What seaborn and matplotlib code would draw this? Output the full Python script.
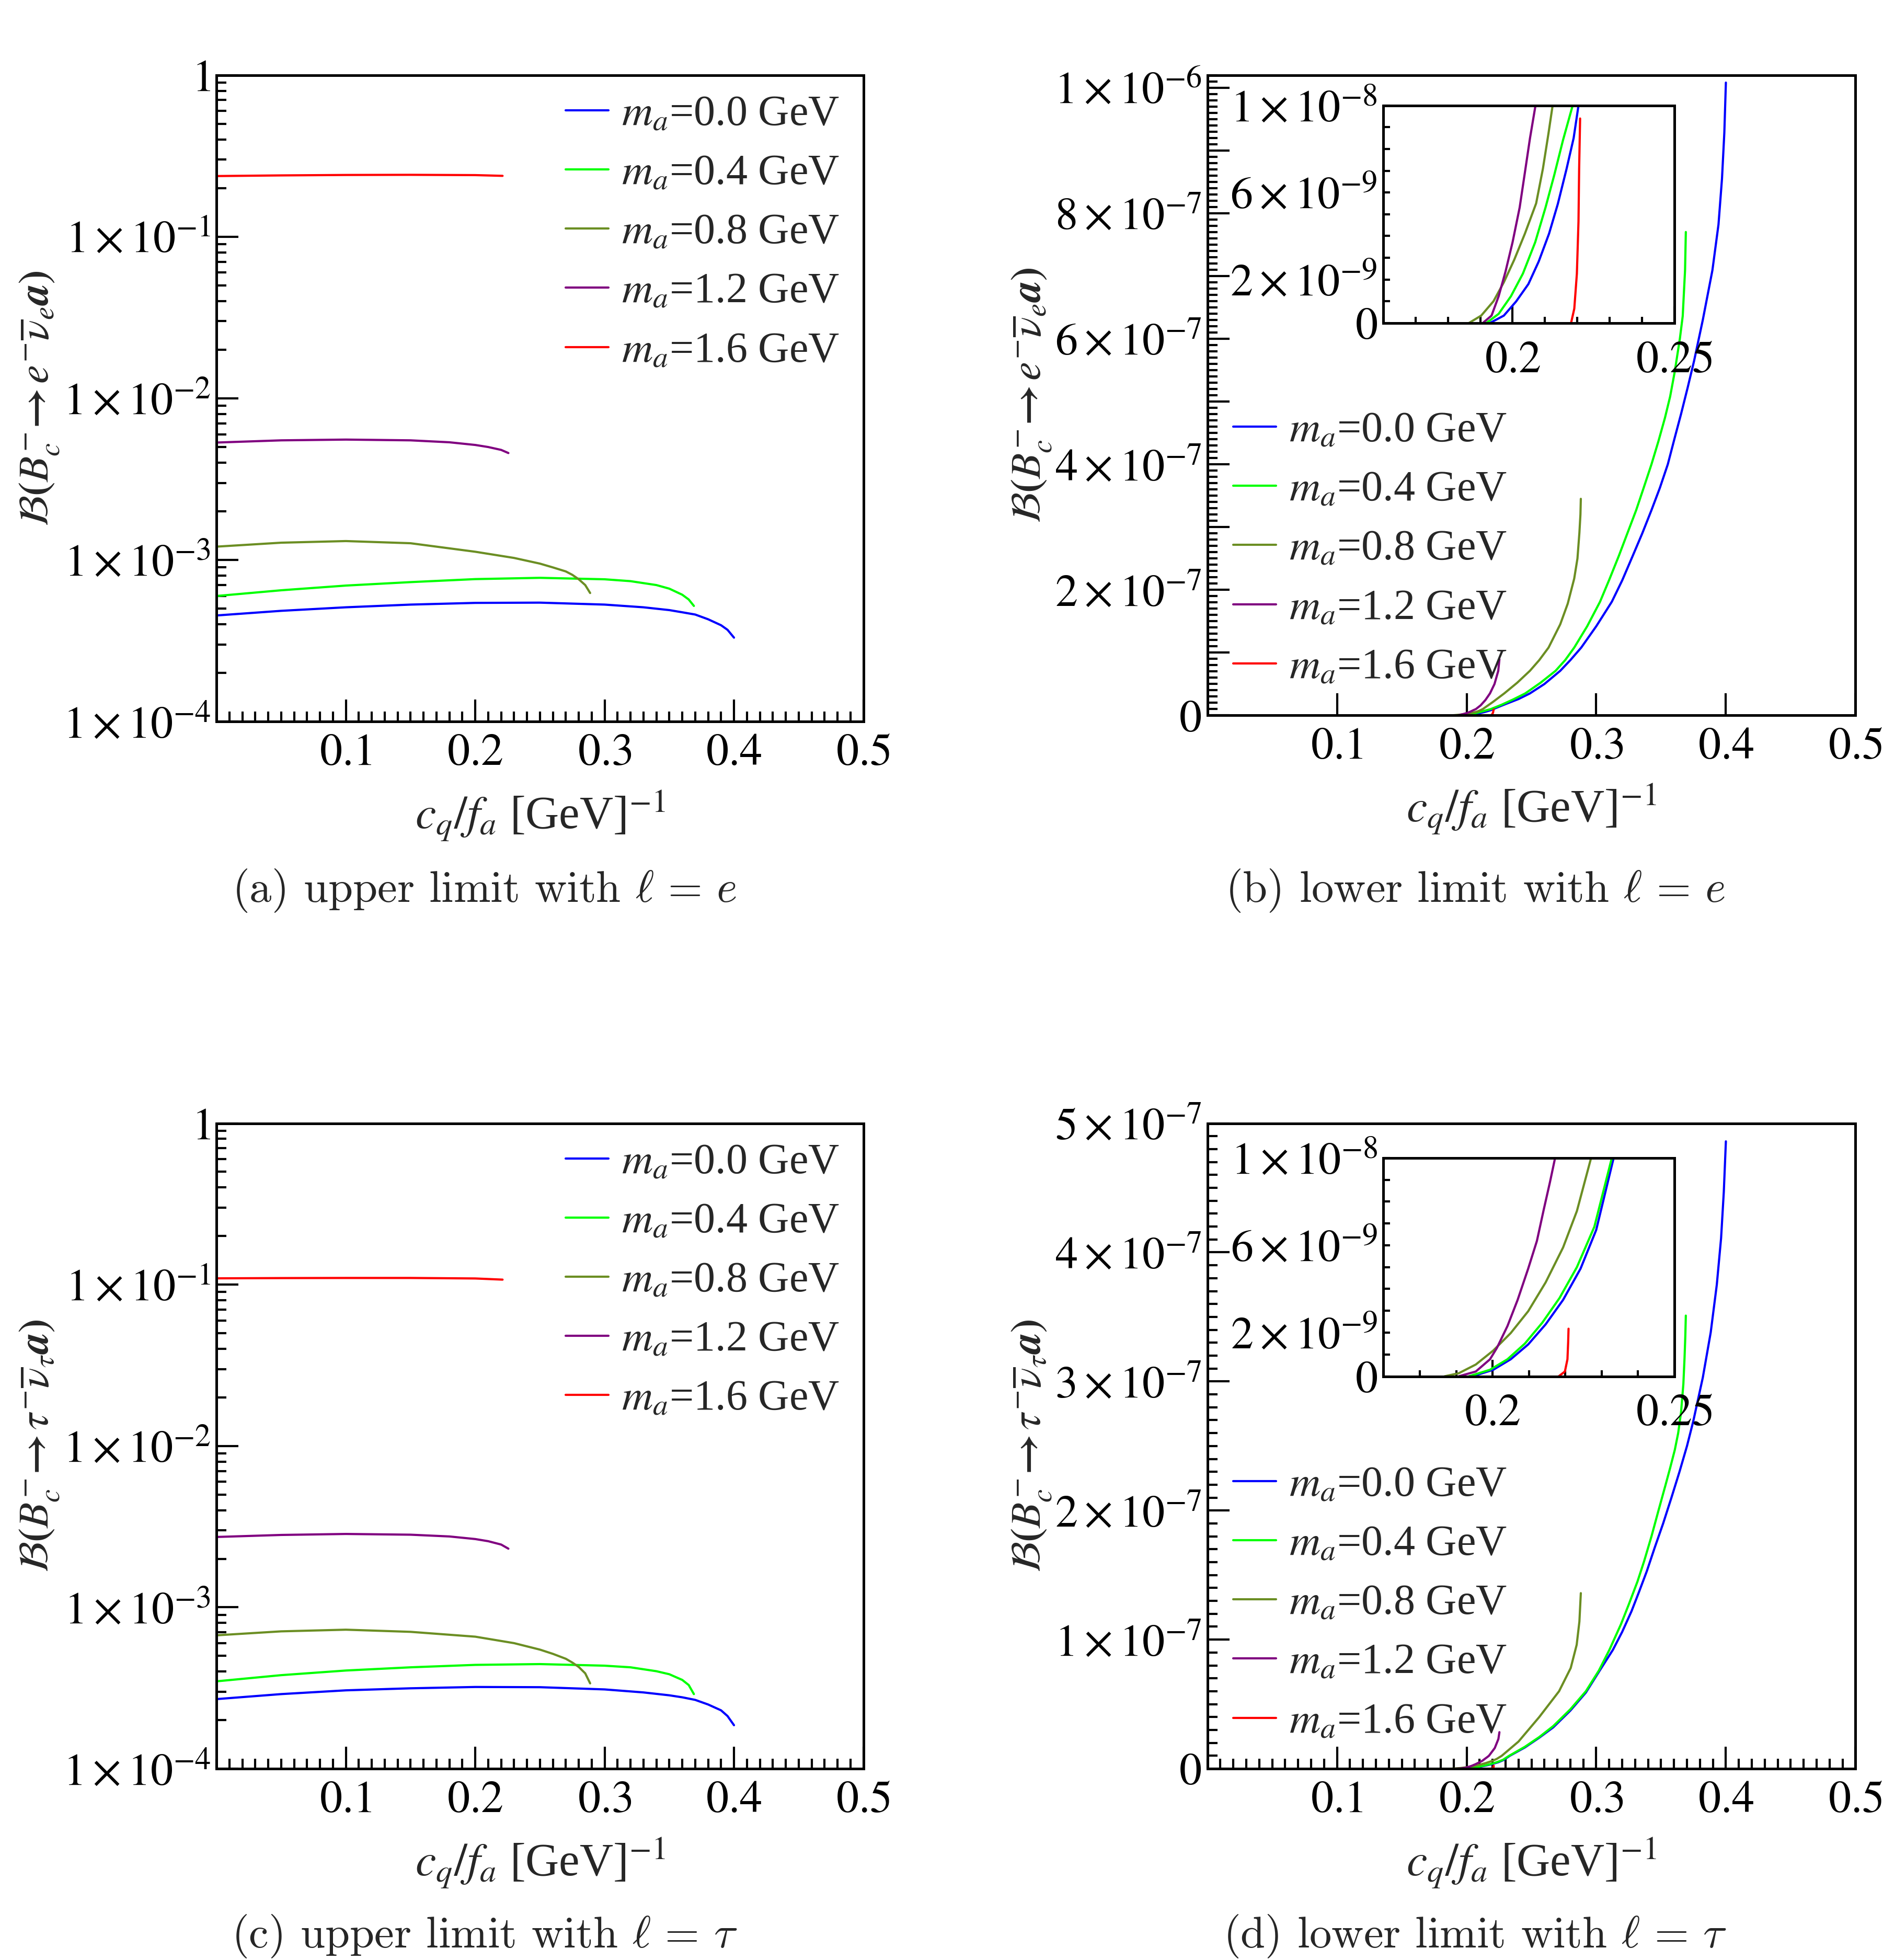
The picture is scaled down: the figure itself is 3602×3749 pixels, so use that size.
import pandas as pd
import matplotlib
matplotlib.use('Agg')
import matplotlib.pyplot as plt
import matplotlib.ticker as mticker
import seaborn as sns

# ---- data ----
MASSES = ['0.0', '0.4', '0.8', '1.2', '1.6']
COLORS = ['#0000ff', '#00ff00', '#6b8e23', '#800080', '#ff0000']

# (a) upper limit, l = e
ue_x_00 = [0, 0.05, 0.1, 0.15, 0.2, 0.25, 0.3, 0.33, 0.35, 0.36, 0.37, 0.38, 0.39, 0.395, 0.4]
ue_y_00 = [4.54e-4, 4.85e-4, 5.1e-4, 5.3e-4, 5.43e-4, 5.45e-4, 5.3e-4, 5.1e-4, 4.9e-4, 4.75e-4, 4.6e-4, 4.3e-4, 3.95e-4, 3.7e-4, 3.31e-4]
ue_x_04 = [0, 0.05, 0.1, 0.15, 0.2, 0.25, 0.3, 0.32, 0.34, 0.35, 0.36, 0.365, 0.369]
ue_y_04 = [5.99e-4, 6.5e-4, 6.95e-4, 7.3e-4, 7.62e-4, 7.76e-4, 7.6e-4, 7.4e-4, 7.0e-4, 6.65e-4, 6.1e-4, 5.7e-4, 5.2e-4]
ue_x_08 = [0, 0.05, 0.1, 0.15, 0.2, 0.23, 0.25, 0.26, 0.27, 0.275, 0.28, 0.285, 0.2888]
ue_y_08 = [1.21e-3, 1.28e-3, 1.31e-3, 1.27e-3, 1.125e-3, 1.03e-3, 9.5e-4, 9.0e-4, 8.5e-4, 8.1e-4, 7.6e-4, 7.0e-4, 6.25e-4]
ue_x_12 = [0, 0.05, 0.1, 0.15, 0.18, 0.2, 0.21, 0.22, 0.2256]
ue_y_12 = [5.33e-3, 5.5e-3, 5.56e-3, 5.5e-3, 5.35e-3, 5.15e-3, 5.0e-3, 4.8e-3, 4.59e-3]
ue_x_16 = [0, 0.05, 0.1, 0.15, 0.2, 0.2211]
ue_y_16 = [0.2373, 0.2395, 0.241, 0.2415, 0.2405, 0.238]

# (c) upper limit, l = tau
ut_x_00 = ue_x_00
ut_y_00 = [2.7e-4, 2.9e-4, 3.06e-4, 3.15e-4, 3.21e-4, 3.2e-4, 3.1e-4, 2.97e-4, 2.85e-4, 2.77e-4, 2.67e-4, 2.5e-4, 2.3e-4, 2.12e-4, 1.86e-4]
ut_x_04 = ue_x_04
ut_y_04 = [3.48e-4, 3.8e-4, 4.06e-4, 4.25e-4, 4.4e-4, 4.45e-4, 4.35e-4, 4.25e-4, 4.02e-4, 3.85e-4, 3.55e-4, 3.3e-4, 2.9e-4]
ut_x_08 = ue_x_08
ut_y_08 = [6.71e-4, 7.1e-4, 7.27e-4, 7.05e-4, 6.58e-4, 6.0e-4, 5.47e-4, 5.15e-4, 4.8e-4, 4.55e-4, 4.27e-4, 3.9e-4, 3.38e-4]
ut_x_12 = ue_x_12
ut_y_12 = [2.73e-3, 2.81e-3, 2.85e-3, 2.82e-3, 2.75e-3, 2.65e-3, 2.57e-3, 2.45e-3, 2.31e-3]
ut_x_16 = ue_x_16
ut_y_16 = [0.1094, 0.1098, 0.110, 0.1100, 0.1092, 0.1074]

# (b) lower limit, l = e
le_x_00 = [0.193, 0.1973, 0.2011, 0.2049, 0.2081, 0.2113, 0.214, 0.2167, 0.2189, 0.2204, 0.23, 0.24, 0.2488, 0.26,
           0.2722, 0.28, 0.2884, 0.30, 0.312, 0.32, 0.3281, 0.3355, 0.3426, 0.349, 0.3552, 0.3605, 0.3654, 0.3705,
           0.3755, 0.3822, 0.3896, 0.3943, 0.397, 0.3988, 0.4]
le_y_00 = [0, 0.34e-9, 0.99e-9, 1.79e-9, 2.83e-9, 4.11e-9, 5.47e-9, 7.08e-9, 8.5e-9, 1e-8, 1.8e-8, 2.6e-8, 3.5e-8, 5.0e-8,
           7.1e-8, 8.8e-8, 1.08e-7, 1.42e-7, 1.81e-7, 2.15e-7, 2.54e-7, 2.9e-7, 3.27e-7, 3.62e-7, 4.0e-7, 4.42e-7, 4.8e-7, 5.22e-7,
           5.65e-7, 6.3e-7, 7.09e-7, 7.82e-7, 8.55e-7, 9.28e-7, 1.008e-6]
le_x_04 = [0.1919, 0.1957, 0.1995, 0.2032, 0.207, 0.2102, 0.2129, 0.2156, 0.2186, 0.227, 0.236, 0.2452, 0.257, 0.2686,
           0.276, 0.283, 0.293, 0.3029, 0.31, 0.3174, 0.324, 0.3308, 0.3365, 0.3426, 0.348, 0.353, 0.357, 0.3605,
           0.3645, 0.3667, 0.3685, 0.3691]
le_y_04 = [0, 0.42e-9, 1.23e-9, 2.27e-9, 3.71e-9, 5.31e-9, 6.8e-9, 8.4e-9, 1e-8, 1.7e-8, 2.55e-8, 3.5e-8, 5.2e-8, 7.1e-8,
           8.8e-8, 1.08e-7, 1.42e-7, 1.81e-7, 2.16e-7, 2.54e-7, 2.9e-7, 3.27e-7, 3.62e-7, 4.0e-7, 4.37e-7, 4.74e-7, 5.08e-7, 5.47e-7,
           6.0e-7, 6.36e-7, 7.09e-7, 7.7e-7]
le_x_08 = [0.1865, 0.1903, 0.1941, 0.1973, 0.2005, 0.2038, 0.2073, 0.2094, 0.2111, 0.2124, 0.22, 0.229, 0.239, 0.2488,
           0.256, 0.2632, 0.2722, 0.278, 0.283, 0.2855, 0.287, 0.2878, 0.2881]
le_y_08 = [0, 0.34e-9, 1.0e-9, 1.87e-9, 2.9e-9, 4.1e-9, 5.5e-9, 7.1e-9, 8.7e-9, 1e-8, 2.1e-8, 3.5e-8, 5.2e-8, 7.1e-8,
           8.8e-8, 1.08e-7, 1.45e-7, 1.78e-7, 2.18e-7, 2.5e-7, 2.91e-7, 3.2e-7, 3.45e-7]
le_x_12 = [0.1908, 0.1935, 0.1957, 0.1978, 0.2, 0.2022, 0.2038, 0.2054, 0.2071, 0.2108, 0.2145, 0.218, 0.2215, 0.2244, 0.2253]
le_y_12 = [0, 0.34e-9, 1.23e-9, 2.35e-9, 3.71e-9, 5.31e-9, 6.9e-9, 8.5e-9, 1e-8, 1.6e-8, 2.45e-8, 3.5e-8, 5.0e-8, 7.1e-8, 8.96e-8]
le_x_16 = [0.2181, 0.2191, 0.2199, 0.2204, 0.2206, 0.2209]
le_y_16 = [0, 0.66e-9, 2.27e-9, 4.67e-9, 7.08e-9, 9.4e-9]

# (d) lower limit, l = tau
lt_x_00 = [0.1945, 0.2002, 0.205, 0.2098, 0.2146, 0.2194, 0.2242, 0.2285, 0.2333, 0.245, 0.256, 0.2668, 0.28, 0.292,
           0.302, 0.3128, 0.32, 0.3272, 0.333, 0.339, 0.345, 0.3516, 0.358, 0.3642, 0.37, 0.3748, 0.3822, 0.3883,
           0.393, 0.3963, 0.3984, 0.4]
lt_y_00 = [0, 0.3e-9, 0.78e-9, 1.46e-9, 2.38e-9, 3.5e-9, 4.93e-9, 6.7e-9, 1e-8, 1.65e-8, 2.4e-8, 3.2e-8, 4.5e-8, 5.9e-8,
           7.5e-8, 9.2e-8, 1.06e-7, 1.22e-7, 1.37e-7, 1.53e-7, 1.71e-7, 1.9e-7, 2.1e-7, 2.3e-7, 2.5e-7, 2.69e-7, 3.03e-7, 3.38e-7,
           3.75e-7, 4.11e-7, 4.47e-7, 4.86e-7]
lt_x_04 = [0.1935, 0.1993, 0.2041, 0.2089, 0.2137, 0.2184, 0.2232, 0.228, 0.2328, 0.245, 0.256, 0.2668, 0.28, 0.292,
           0.302, 0.3101, 0.3191, 0.325, 0.3318, 0.337, 0.3426, 0.348, 0.3535, 0.357, 0.3606, 0.3632, 0.3654, 0.3672,
           0.3681, 0.3687, 0.3691]
lt_y_04 = [0, 0.3e-9, 0.78e-9, 1.5e-9, 2.46e-9, 3.58e-9, 5.0e-9, 6.85e-9, 1e-8, 1.7e-8, 2.45e-8, 3.3e-8, 4.6e-8, 6.0e-8,
           7.6e-8, 9.2e-8, 1.12e-7, 1.27e-7, 1.45e-7, 1.61e-7, 1.8e-7, 2.0e-7, 2.2e-7, 2.33e-7, 2.47e-7, 2.6e-7, 2.76e-7, 2.98e-7,
           3.18e-7, 3.35e-7, 3.51e-7]
lt_x_08 = [0.1868, 0.1907, 0.1954, 0.2002, 0.205, 0.2098, 0.2146, 0.2194, 0.2232, 0.2271, 0.24, 0.256, 0.2713,
           0.2803, 0.2849, 0.287, 0.2881]
lt_y_08 = [0, 0.14e-9, 0.54e-9, 1.18e-9, 1.98e-9, 2.98e-9, 4.3e-9, 5.9e-9, 7.57e-9, 1e-8, 2.1e-8, 4.0e-8, 6.0e-8,
           7.8e-8, 9.6e-8, 1.14e-7, 1.36e-7]
lt_x_12 = [0.1907, 0.1954, 0.1993, 0.2012, 0.2041, 0.2069, 0.2098, 0.2122, 0.2141, 0.2158, 0.2172, 0.2217, 0.2245, 0.2253]
lt_y_12 = [0, 0.22e-9, 0.78e-9, 1.3e-9, 2.3e-9, 3.5e-9, 4.93e-9, 6.2e-9, 7.65e-9, 8.9e-9, 1e-8, 1.6e-8, 2.3e-8, 2.83e-8]
lt_x_16 = [0.2182, 0.2199, 0.2206, 0.2208, 0.2209]
lt_y_16 = [0, 0.22e-9, 0.78e-9, 1.58e-9, 2.18e-9]

# ---- style ----
sns.set_theme(style='ticks')
plt.rcParams['font.family'] = ['Liberation Serif', 'DejaVu Serif']
plt.rcParams['mathtext.fontset'] = 'stix'
plt.rcParams['axes.edgecolor'] = 'black'

TICK_FS = 62
LEG_FS = 59
XLAB_FS = 64
YLAB_FS = 58
CAP_FS = 61
LW = 3.0


def draw(ax, curves, with_label=True):
    for (xs, ys), m, col in zip(curves, MASSES, COLORS):
        df = pd.DataFrame({'x': xs, 'y': ys})
        lab = r'$m_a$=' + m + ' GeV' if with_label else None
        sns.lineplot(data=df, x='x', y='y', ax=ax, color=col, lw=LW, label=lab,
                     estimator=None, sort=False, legend=False)


def frame(ax, major_len=30, minor_len=14, pad=8):
    for sp in ax.spines.values():
        sp.set_visible(True)
        sp.set_linewidth(3.6)
    ax.tick_params(which='both', direction='in', top=False, right=False, width=3,
                   colors='black', labelsize=TICK_FS)
    ax.tick_params(which='major', length=major_len, pad=pad)
    ax.tick_params(which='minor', length=minor_len)
    ax.set_xlabel('')
    ax.set_ylabel('')


def sci(v, e):
    return r'$%s\times10^{%d}$' % (v, e)


def add_legend(ax, anchor):
    ax.legend(loc='upper left', bbox_to_anchor=anchor, frameon=False, fontsize=LEG_FS,
              handlelength=1.0, handletextpad=0.3, labelspacing=0.46, borderpad=0, borderaxespad=0)


def labels(ax, ylab, ylab_x):
    ax.set_xlabel(r'$c_q/f_a$ [GeV]$^{-1}$', fontsize=XLAB_FS)
    ax.xaxis.set_label_coords(0.5, -0.105)
    ax.set_ylabel(ylab, fontsize=YLAB_FS)
    ax.yaxis.set_label_coords(ylab_x, 0.5)


def upper_panel(ax, curves, ylab):
    ax.set_yscale('log')
    draw(ax, curves)
    ax.set_xlim(0, 0.5)
    ax.set_ylim(1e-4, 1)
    frame(ax)
    ax.yaxis.set_major_locator(mticker.FixedLocator([1e-4, 1e-3, 1e-2, 1e-1, 1]))
    ax.yaxis.set_major_formatter(mticker.FixedFormatter([sci(1, -4), sci(1, -3), sci(1, -2), sci(1, -1), r'$1$']))
    ax.yaxis.set_minor_locator(mticker.LogLocator(base=10, subs=range(2, 10)))
    ax.yaxis.set_minor_formatter(mticker.NullFormatter())
    ax.xaxis.set_major_locator(mticker.FixedLocator([0.1, 0.2, 0.3, 0.4, 0.5]))
    ax.xaxis.set_major_formatter(mticker.FixedFormatter([r'$0.1$', r'$0.2$', r'$0.3$', r'$0.4$', r'$0.5$']))
    ax.xaxis.set_minor_locator(mticker.MultipleLocator(0.01))
    ax.tick_params(axis='x', which='major', pad=16)
    add_legend(ax, (0.54, 0.969))
    labels(ax, ylab, -0.24)


def lower_panel(ax, curves, ylab, ytop, yticks, ylabs, xminor, leg_y):
    draw(ax, curves)
    ax.set_xlim(0, 0.5)
    ax.set_ylim(0, ytop)
    frame(ax)
    ax.yaxis.set_major_locator(mticker.FixedLocator(yticks))
    ax.yaxis.set_major_formatter(mticker.FixedFormatter(ylabs))
    ax.yaxis.set_minor_locator(mticker.MultipleLocator(1e-8))
    ax.xaxis.set_major_locator(mticker.FixedLocator([0.1, 0.2, 0.3, 0.4, 0.5]))
    ax.xaxis.set_major_formatter(mticker.FixedFormatter([r'$0.1$', r'$0.2$', r'$0.3$', r'$0.4$', r'$0.5$']))
    if xminor:
        ax.xaxis.set_minor_locator(mticker.MultipleLocator(0.01))
    else:
        ax.xaxis.set_minor_locator(mticker.NullLocator())
    ax.tick_params(axis='x', which='major', pad=16)
    add_legend(ax, (0.04, leg_y))
    labels(ax, ylab, -0.238)


def inset(fig, rect, curves, xlo):
    ax = fig.add_axes(rect)
    draw(ax, curves, with_label=False)
    ax.set_xlim(xlo, 0.25)
    ax.set_ylim(0, 1e-8)
    frame(ax, major_len=9, minor_len=9, pad=8)
    ax.yaxis.set_major_locator(mticker.FixedLocator([0, 2e-9, 6e-9, 1e-8]))
    ax.yaxis.set_major_formatter(mticker.FixedFormatter([r'$0$', sci(2, -9), sci(6, -9), sci(1, -8)]))
    ax.yaxis.set_minor_locator(mticker.MultipleLocator(1e-9))
    ax.xaxis.set_major_locator(mticker.FixedLocator([0.2, 0.25]))
    ax.xaxis.set_major_formatter(mticker.FixedFormatter([r'$0.2$', r'$0.25$']))
    ax.xaxis.set_minor_locator(mticker.MultipleLocator(0.01))
    ax.tick_params(axis='x', which='major', length=23, pad=24)
    return ax


fig = plt.figure(figsize=(36.02, 37.49), dpi=100)

ax_a = fig.add_axes([0.1150, 0.6318, 0.3435, 0.3299])
ax_b = fig.add_axes([0.6412, 0.6350, 0.3442, 0.3267])
ax_c = fig.add_axes([0.1150, 0.0976, 0.3435, 0.3293])
ax_d = fig.add_axes([0.6412, 0.0976, 0.3442, 0.3293])

ylab_e = r'$\mathcal{B}\boldsymbol{(B_c^{-}\!\rightarrow e^{-}\overline{\nu}_e a)}$'
ylab_t = r'$\mathcal{B}\boldsymbol{(B_c^{-}\!\rightarrow \tau^{-}\overline{\nu}_\tau a)}$'

upper_panel(ax_a, [(ue_x_00, ue_y_00), (ue_x_04, ue_y_04), (ue_x_08, ue_y_08),
                   (ue_x_12, ue_y_12), (ue_x_16, ue_y_16)], ylab_e)
upper_panel(ax_c, [(ut_x_00, ut_y_00), (ut_x_04, ut_y_04), (ut_x_08, ut_y_08),
                   (ut_x_12, ut_y_12), (ut_x_16, ut_y_16)], ylab_t)

lower_e = [(le_x_00, le_y_00), (le_x_04, le_y_04), (le_x_08, le_y_08), (le_x_12, le_y_12), (le_x_16, le_y_16)]
lower_t = [(lt_x_00, lt_y_00), (lt_x_04, lt_y_04), (lt_x_08, lt_y_08), (lt_x_12, lt_y_12), (lt_x_16, lt_y_16)]

lower_panel(ax_b, lower_e, ylab_e, 1.02e-6,
            [0, 1e-7, 2e-7, 3e-7, 4e-7, 5e-7, 6e-7, 7e-7, 8e-7, 9e-7, 1e-6],
            [r'$0$', '', sci(2, -7), '', sci(4, -7), '', sci(6, -7), '', sci(8, -7), '', sci(1, -6)],
            xminor=False, leg_y=0.4745)
lower_panel(ax_d, lower_t, ylab_t, 5.0e-7,
            [0, 1e-7, 2e-7, 3e-7, 4e-7, 5e-7],
            [r'$0$', sci(1, -7), sci(2, -7), sci(3, -7), sci(4, -7), sci(5, -7)],
            xminor=True, leg_y=0.469)

inset(fig, [0.7346, 0.8352, 0.1545, 0.1110], lower_e, 0.16)
inset(fig, [0.7347, 0.2978, 0.1545, 0.1114], lower_t, 0.17)

cap_kw = dict(ha='center', va='center', fontsize=CAP_FS, family='cmr10', math_fontfamily='cm')
fig.text(0.2573, 0.5456, r'(a) upper limit with $\ell\,=\,e$', **cap_kw)
fig.text(0.7834, 0.5456, r'(b) lower limit with $\ell\,=\,e$', **cap_kw)
fig.text(0.2573, 0.0121, r'(c) upper limit with $\ell\,=\,\tau$', **cap_kw)
fig.text(0.7834, 0.0121, r'(d) lower limit with $\ell\,=\,\tau$', **cap_kw)

fig.savefig('out.png', dpi=100, facecolor='white')
